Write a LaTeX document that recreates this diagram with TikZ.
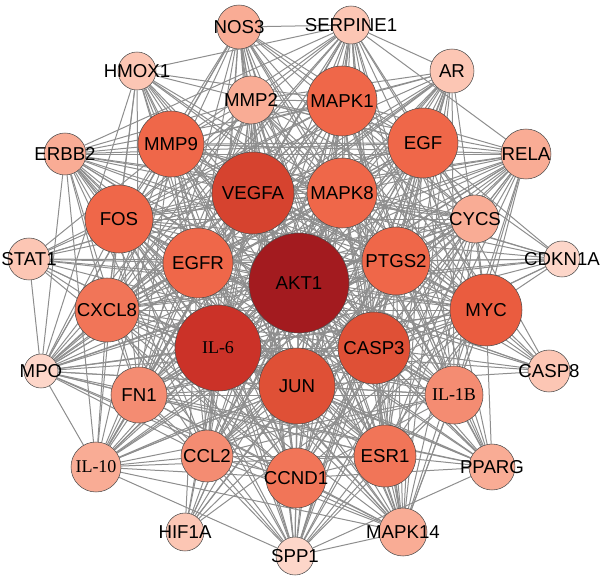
\documentclass[tikz,border=0pt]{standalone}
\usepackage{fontspec}
\setmainfont{Liberation Sans}
\newfontfamily\tnr{Liberation Serif}
\usetikzlibrary{backgrounds}
\definecolor{c1}{HTML}{A31B1F}
\definecolor{c2}{HTML}{CB3228}
\definecolor{c3}{HTML}{D6432F}
\definecolor{c4}{HTML}{DF5036}
\definecolor{c5}{HTML}{EA5C3F}
\definecolor{c6}{HTML}{EF6749}
\definecolor{c7}{HTML}{F17558}
\definecolor{c8}{HTML}{F48C72}
\definecolor{c9}{HTML}{F9AC95}
\definecolor{c10}{HTML}{FCC6B4}
\definecolor{c11}{HTML}{FDD6C9}
\definecolor{edgegray}{HTML}{8E8E8E}
\newcommand{\lbl}[1]{\makebox[0pt][c]{#1}}
\tikzset{
  gene/.style n args={2}{circle, draw=black!70, line width=0.4pt, inner sep=0pt,
    minimum size=#1*1.5pt, fill=#2, font=\fontsize{14}{14}\selectfont, text=black},
  serifgene/.style n args={2}{gene={#1}{#2}, font=\tnr\fontsize{13.5}{14}\selectfont},
  edge/.style={draw=edgegray, line width=0.75pt}
}
\begin{document}
\begin{tikzpicture}[x=0.75pt,y=-0.75pt]
\useasboundingbox (0,0) rectangle (600,575);
\node[gene={50}{c1}] (n1) at (299,283) {\lbl{AKT1}};
\node[serifgene={43}{c2}] (n2) at (218,348) {\lbl{IL-6}};
\node[gene={41}{c3}] (n3) at (253,193) {\lbl{VEGFA}};
\node[gene={38}{c4}] (n4) at (297,386) {\lbl{JUN}};
\node[gene={36}{c4}] (n5) at (374,348) {\lbl{CASP3}};
\node[gene={36}{c5}] (n6) at (486,310) {\lbl{MYC}};
\node[gene={35}{c6}] (n7) at (198,263) {\lbl{EGFR}};
\node[gene={34}{c6}] (n8) at (396,261) {\lbl{PTGS2}};
\node[gene={35}{c6}] (n9) at (342,101) {\lbl{MAPK1}};
\node[gene={35}{c6}] (n10) at (342,193) {\lbl{MAPK8}};
\node[gene={35}{c6}] (n11) at (423,143) {\lbl{EGF}};
\node[gene={34}{c6}] (n12) at (119,219) {\lbl{FOS}};
\node[gene={33}{c6}] (n13) at (171,144) {\lbl{MMP9}};
\node[gene={32}{c7}] (n14) at (107,310) {\lbl{CXCL8}};
\node[gene={30}{c7}] (n15) at (296,478) {\lbl{CCND1}};
\node[gene={31}{c7}] (n16) at (385,456) {\lbl{ESR1}};
\node[gene={28}{c8}] (n17) at (139,395) {\lbl{FN1}};
\node[serifgene={29}{c8}] (n18) at (454,395) {\lbl{IL-1B}};
\node[gene={26}{c8}] (n19) at (207,456) {\lbl{CCL2}};
\node[gene={24}{c9}] (n20) at (251,100) {\lbl{MMP2}};
\node[gene={24}{c9}] (n21) at (475,219) {\lbl{CYCS}};
\node[gene={25}{c9}] (n22) at (526,154) {\lbl{RELA}};
\node[serifgene={25}{c9}] (n23) at (96,467) {\lbl{IL-10}};
\node[gene={21}{c9}] (n24) at (65,154) {\lbl{ERBB2}};
\node[gene={22}{c9}] (n25) at (239,27) {\lbl{NOS3}};
\node[gene={22}{c10}] (n26) at (452,71) {\lbl{AR}};
\node[gene={24}{c9}] (n27) at (403,532) {\lbl{MAPK14}};
\node[gene={23}{c9}] (n28) at (492,467) {\lbl{PPARG}};
\node[gene={19}{c10}] (n29) at (137,71) {\lbl{HMOX1}};
\node[gene={19}{c10}] (n30) at (351,25) {\lbl{SERPINE1}};
\node[gene={21}{c10}] (n31) at (29,259) {\lbl{STAT1}};
\node[gene={18}{c11}] (n32) at (562,259) {\lbl{CDKN1A}};
\node[gene={17}{c11}] (n33) at (41,371) {\lbl{MPO}};
\node[gene={21}{c10}] (n34) at (549,371) {\lbl{CASP8}};
\node[gene={19}{c10}] (n35) at (185,532) {\lbl{HIF1A}};
\node[gene={19}{c11}] (n36) at (295,556) {\lbl{SPP1}};
\begin{pgfonlayer}{background}
\foreach \i in {1,...,35}{
  \pgfmathtruncatemacro\jstart{\i+1}
  \foreach \j in {\jstart,...,36}{
    \pgfmathtruncatemacro\ok{or(\i+\j<=46, and(\i+\j<=64, mod(3*\i+5*\j,3)==0))}
    \ifnum\ok=1 \draw[edge] (n\i) -- (n\j);\fi
  }
}
\end{pgfonlayer}
\end{tikzpicture}
\end{document}
